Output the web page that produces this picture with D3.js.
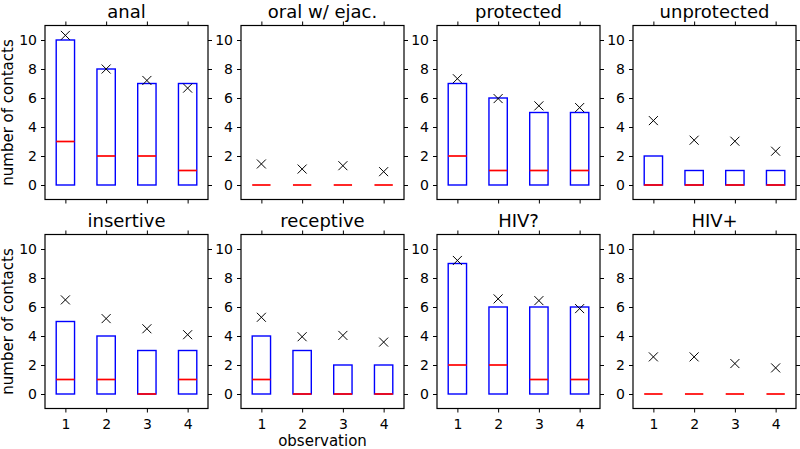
<!DOCTYPE html>
<html>
<head>
<meta charset="utf-8">
<script src="https://cdn.jsdelivr.net/npm/d3@7/dist/d3.min.js"></script>
<style>
  html, body { margin: 0; padding: 0; background: #fff; }
  svg { display: block; }
  text { font-family: "DejaVu Sans", sans-serif; fill: #000; }
</style>
</head>
<body>
<svg id="chart" width="800" height="449"></svg>
<script>
// ---- data ----
const categories = ["anal", "oral w/ ejac.", "protected", "unprotected",
                    "insertive", "receptive", "HIV?", "HIV+"];
const observations = [1, 2, 3, 4];
const yTicks = [0, 2, 4, 6, 8, 10];
// lower quartile (box bottom) per category, per observation
const q1Values = [
  [0, 0, 0, 0], [0, 0, 0, 0], [0, 0, 0, 0], [0, 0, 0, 0],
  [0, 0, 0, 0], [0, 0, 0, 0], [0, 0, 0, 0], [0, 0, 0, 0]
];
// upper quartile (box top)
const q3Values = [
  [10, 8, 7, 7], [0, 0, 0, 0], [7, 6, 5, 5], [2, 1, 1, 1],
  [5, 4, 3, 3], [4, 3, 2, 2], [9, 6, 6, 6], [0, 0, 0, 0]
];
// medians
const medianValues = [
  [3, 2, 2, 1], [0, 0, 0, 0], [2, 1, 1, 1], [0, 0, 0, 0],
  [1, 1, 0, 1], [1, 0, 0, 0], [2, 2, 1, 1], [0, 0, 0, 0]
];
// means (x markers)
const meanValues = [
  [10.32, 8.0, 7.21, 6.68], [1.45, 1.1, 1.33, 0.92],
  [7.33, 5.96, 5.46, 5.34], [4.44, 3.09, 3.02, 2.33],
  [6.49, 5.2, 4.5, 4.09], [5.29, 3.95, 4.04, 3.58],
  [9.21, 6.56, 6.44, 5.89], [2.56, 2.56, 2.10, 1.80]
];
const yLabel = "number of contacts";
const xLabel = "observation";

// ---- layout ----
const svg = d3.select("#chart");
const panelLefts = [45, 241, 437, 633];
const panelTops = [25.5, 234.5];
const pw = 163, ph = 174;
const boxWidth = 0.45;
const mk = 4.5;

categories.forEach((cat, i) => {
  const row = Math.floor(i / 4), col = i % 4;
  const left = panelLefts[col], top = panelTops[row];
  const x = d3.scaleLinear().domain([0.5, 4.5]).range([left, left + pw]);
  const y = d3.scaleLinear().domain([-1, 11]).range([top + ph, top]);
  const g = svg.append("g");

  // boxes
  observations.forEach((o, j) => {
    const x0 = x(o - boxWidth / 2), x1 = x(o + boxWidth / 2);
    g.append("rect")
      .attr("x", x0).attr("y", y(q3Values[i][j]))
      .attr("width", x1 - x0)
      .attr("height", y(q1Values[i][j]) - y(q3Values[i][j]))
      .attr("fill", "none").attr("stroke", "#0000ff").attr("stroke-width", 1.4);
  });
  observations.forEach((o, j) => {
    g.append("line")
      .attr("x1", x(o - boxWidth / 2)).attr("x2", x(o + boxWidth / 2))
      .attr("y1", y(medianValues[i][j])).attr("y2", y(medianValues[i][j]))
      .attr("stroke", "#ff0000").attr("stroke-width", 1.7);
  });
  observations.forEach((o, j) => {
    const cx = x(o), cy = y(meanValues[i][j]);
    g.append("path")
      .attr("d", `M${cx - mk},${cy - mk}L${cx + mk},${cy + mk}M${cx - mk},${cy + mk}L${cx + mk},${cy - mk}`)
      .attr("stroke", "#000").attr("stroke-width", 1).attr("fill", "none");
  });

  // axes
  const axL = d3.axisLeft(y).tickValues(yTicks).tickSize(4).tickSizeOuter(0).tickPadding(4).tickFormat(d3.format("d"));
  const axR = d3.axisRight(y).tickValues(yTicks).tickSize(4).tickSizeOuter(0).tickFormat("");
  const axT = d3.axisTop(x).tickValues(observations).tickSize(4).tickSizeOuter(0).tickFormat("");
  const axB = d3.axisBottom(x).tickValues(observations).tickSize(4).tickSizeOuter(0).tickPadding(7)
    .tickFormat(row === 0 ? "" : d3.format("d"));

  const gl = g.append("g").attr("transform", `translate(${left},0)`).call(axL);
  const gr = g.append("g").attr("transform", `translate(${left + pw},0)`).call(axR);
  const gt = g.append("g").attr("transform", `translate(0,${top})`).call(axT);
  const gb = g.append("g").attr("transform", `translate(0,${top + ph})`).call(axB);
  [gl, gr, gt, gb].forEach(a => {
    a.select(".domain").remove();
    a.selectAll("line").attr("stroke", "#000").attr("stroke-width", 1);
    a.selectAll("text").style("font-family", "DejaVu Sans").style("font-size", "14px").attr("fill", "#000");
  });

  // frame
  g.append("rect").attr("x", left).attr("y", top).attr("width", pw).attr("height", ph)
    .attr("fill", "none").attr("stroke", "#000").attr("stroke-width", 1.2);

  // title
  g.append("text").attr("x", left + pw / 2).attr("y", top - 8)
    .attr("text-anchor", "middle").style("font-size", "18px").text(cat);

  if (col === 0) {
    g.append("text")
      .attr("transform", `translate(13,${top + ph / 2}) rotate(-90)`)
      .attr("text-anchor", "middle").style("font-size", "15px").text(yLabel);
  }
  if (row === 1 && col === 1) {
    g.append("text").attr("x", left + pw / 2).attr("y", 446)
      .attr("text-anchor", "middle").style("font-size", "15px").text(xLabel);
  }
});
</script>
</body>
</html>
